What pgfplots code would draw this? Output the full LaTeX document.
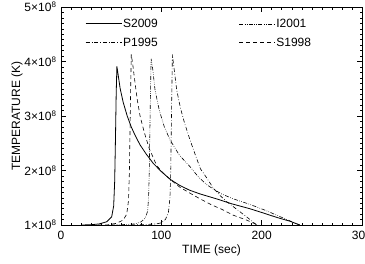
\documentclass[border=0pt]{standalone}
\usepackage{fontspec}
\setmainfont{Liberation Sans}
\usepackage{pgfplots}
\pgfplotsset{compat=1.18}
\begin{document}
\begin{tikzpicture}
\begin{axis}[
  name=ax,
  scale only axis,
  width=301pt, height=218pt,
  xmin=0, xmax=300, ymin=1, ymax=5,
  xtick={0,100,200,300},
  xticklabels={0,100,200,300},
  ytick={1,2,3,4,5},
  yticklabels={1\texttimes10\textsuperscript{8},2\texttimes10\textsuperscript{8},3\texttimes10\textsuperscript{8},4\texttimes10\textsuperscript{8},5\texttimes10\textsuperscript{8}},
  minor x tick num=9, minor y tick num=9,
  tick align=inside,
  major tick length=5pt, minor tick length=2.5pt,
  tick style={line width=0.5pt, black},
  axis line style={line width=0.6pt},
  every tick label/.append style={font=\fontsize{12}{14}\selectfont},
  xticklabel style={yshift=-3pt},
  yticklabel style={xshift=-1pt},
  xlabel={TIME (sec)}, ylabel={TEMPERATURE (K)},
  label style={font=\fontsize{12}{14}\selectfont},
  xlabel style={yshift=2pt},
  ylabel style={yshift=-5pt},
  legend columns=2,
  legend cell align=left,
  legend style={at={(0.07,0.96)}, anchor=north west, draw=none, fill=none,
    font=\fontsize{12}{14}\selectfont,
    nodes={inner sep=1pt},
    row sep=7pt,
    /tikz/every even column/.append style={column sep=80pt}},
  legend image code/.code={\draw[#1] (0pt,0pt) -- (36pt,0pt);},
]
% S2009 (solid)
\addplot[black, solid, line width=0.8pt, mark=none] coordinates {
(20,1.0) (30,1.005) (38,1.02) (45.6,1.06) (50.5,1.15) (52.5,1.35) (53.5,1.8) (54.3,2.6) (55,3.4) (55.7,3.91)
(57,3.75) (59,3.5) (62,3.25) (66,3.0) (70,2.8) (74,2.64) (78.8,2.47) (85,2.3) (92,2.13) (100,1.98)
(108.7,1.84) (118,1.73) (128,1.64) (138.6,1.57) (155,1.48) (170,1.39) (188,1.30) (200,1.23) (215,1.14) (228,1.07) (238,1.0)
};
\addlegendentry{S2009}
% I2001 (dash dot dot)
\addplot[black, line width=0.6pt, mark=none, dash pattern=on 4pt off 1.5pt on 0.6pt off 1.5pt on 0.6pt off 1.5pt] coordinates {
(50,1.0) (65,1.01) (73.8,1.02) (80,1.06) (84,1.13) (86.3,1.25) (87.3,1.5) (88,2.0) (88.8,3.0) (89.8,4.05)
(91.5,3.85) (93.7,3.48) (98,3.1) (103,2.8) (108.7,2.56) (118,2.28) (128.6,2.07) (137,1.88) (145.3,1.74)
(151.7,1.66) (160,1.57) (171.7,1.48) (188,1.38) (205,1.26) (220,1.14) (238,1.0)
};
\addlegendentry{I2001}
% P1995 (dash dot)
\addplot[black, line width=0.6pt, mark=none, dash pattern=on 4pt off 2pt on 0.6pt off 2pt] coordinates {
(70,1.0) (85,1.01) (95,1.02) (100,1.04) (104,1.1) (107,1.22) (108.6,1.5) (109.4,2.0) (110.1,3.0) (111,4.13)
(112.5,3.9) (115.3,3.48) (119,3.15) (123,2.88) (128.6,2.56) (134,2.28) (139,2.03) (145,1.87) (151.7,1.68)
(158,1.55) (165,1.43) (175,1.29) (185,1.15) (195,1.0)
};
\addlegendentry{P1995}
% S1998 (dashed)
\addplot[black, line width=0.6pt, mark=none, dash pattern=on 4pt off 3pt] coordinates {
(30,1.0) (45.6,1.0) (55,1.03) (62,1.09) (65.5,1.2) (67.3,1.45) (68.2,2.0) (69,3.0) (70,4.13)
(71.5,3.95) (73.5,3.65) (76,3.3) (78.8,3.0) (83,2.7) (88,2.4) (95.4,2.09) (102,1.95) (108.7,1.84)
(118,1.70) (128,1.59) (138.6,1.48) (150,1.37) (160,1.29) (171.7,1.18) (185,1.09) (196,1.0)
};
\addlegendentry{S1998}
\end{axis}
\pgfresetboundingbox
\path[use as bounding box] ([shift={(-61pt,-38pt)}]ax.south west) rectangle ([shift={(3pt,7pt)}]ax.north east);
\end{tikzpicture}
\end{document}
